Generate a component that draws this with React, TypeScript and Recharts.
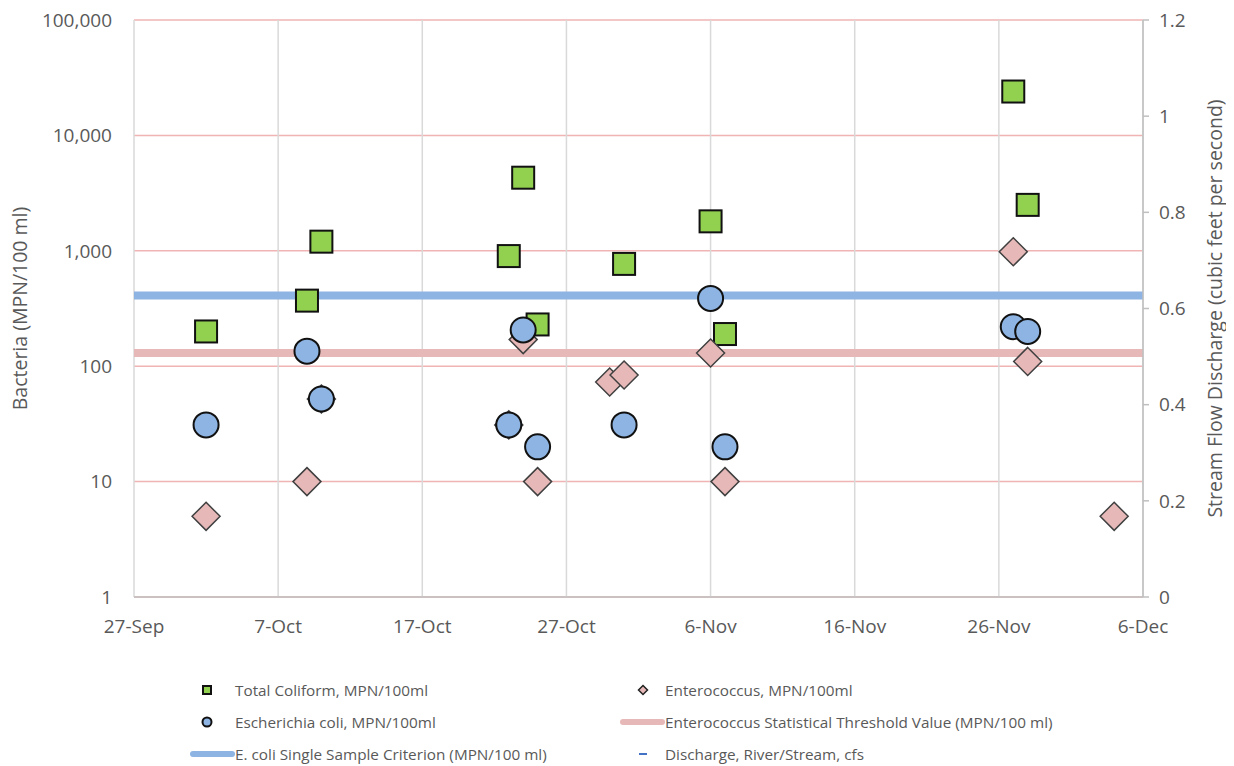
import {
  ComposedChart,
  Scatter,
  XAxis,
  YAxis,
  CartesianGrid,
  ReferenceLine,
} from "recharts";

const YEAR = 2021;
const MONTHS = ["Jan", "Feb", "Mar", "Apr", "May", "Jun", "Jul", "Aug", "Sep", "Oct", "Nov", "Dec"];

// sample dates (MM-DD) and results, MPN/100ml
const coliformDates = ["10-02", "10-09", "10-10", "10-23", "10-24", "10-25", "10-31", "11-06", "11-07", "11-27", "11-28"];
const coliformValues = [200, 370, 1200, 900, 4300, 230, 770, 1800, 190, 24000, 2500];

const ecoliDates = ["10-02", "10-09", "10-10", "10-23", "10-24", "10-25", "10-31", "11-06", "11-07", "11-27", "11-28"];
const ecoliValues = [31, 135, 52, 31, 206, 20, 31, 387, 20, 220, 200];

const enteroDates = ["10-02", "10-09", "10-10", "10-23", "10-24", "10-25", "10-30", "10-31", "11-06", "11-07", "11-27", "11-28", "12-04"];
const enteroValues = [5, 10, 52, 31, 170, 10, 73, 84, 130, 10, 980, 110, 5];

// no discharge readings in this period
const dischargeDates: string[] = [];
const dischargeValues: number[] = [];

const ECOLI_SSC = 410;
const ENTERO_STV = 130;

const xTickDates = ["09-27", "10-07", "10-17", "10-27", "11-06", "11-16", "11-26", "12-06"];
const leftTicks = [1, 10, 100, 1000, 10000, 100000];
const rightTicks = [0, 0.2, 0.4, 0.6, 0.8, 1, 1.2];

const GREEN = "#92d050";
const BLUE = "#8db4e2";
const PINK = "#e6b8b7";
const TEXT = "#595959";
const AXIS = "#bfbfbf";
const FONT = "'Open Sans', sans-serif";

const toTime = (md: string) => {
  const [m, d] = md.split("-").map(Number);
  return Date.UTC(YEAR, m - 1, d);
};

const toPoints = (dates: string[], values: number[]) =>
  dates.map((d, i) => ({ x: toTime(d), y: values[i] }));

const coliform = toPoints(coliformDates, coliformValues);
const ecoli = toPoints(ecoliDates, ecoliValues);
const entero = toPoints(enteroDates, enteroValues);
const discharge = toPoints(dischargeDates, dischargeValues);

const xTicks = xTickDates.map(toTime);

const fmtDate = (t: number) => {
  const d = new Date(t);
  return `${d.getUTCDate()}-${MONTHS[d.getUTCMonth()]}`;
};

const fmtRight = (v: number) => String(Math.round(v * 10) / 10);

const Square = (p: any) => (
  <rect x={p.cx - 11} y={p.cy - 11} width={22} height={22} fill={GREEN} stroke="#111" strokeWidth={2} />
);
const Circle = (p: any) => (
  <circle cx={p.cx} cy={p.cy} r={12.5} fill={BLUE} stroke="#111" strokeWidth={2} />
);
const Diamond = (p: any) => (
  <path
    d={`M${p.cx},${p.cy - 14}L${p.cx + 14},${p.cy}L${p.cx},${p.cy + 14}L${p.cx - 14},${p.cy}Z`}
    fill={PINK}
    stroke="#404040"
    strokeWidth={1.5}
  />
);
const Dash = (p: any) => (
  <line x1={p.cx - 5} x2={p.cx + 5} y1={p.cy} y2={p.cy} stroke="#4472c4" strokeWidth={2} />
);

const legendText: React.CSSProperties = {
  position: "absolute",
  fontFamily: FONT,
  fontSize: 15.3,
  color: TEXT,
  whiteSpace: "nowrap",
  lineHeight: "20px",
};

const LegendRow = ({ x, y, icon, label }: { x: number; y: number; icon: React.ReactNode; label: string }) => (
  <>
    <svg style={{ position: "absolute", left: x - 45, top: y - 9 }} width={45} height={18}>
      {icon}
    </svg>
    <div style={{ ...legendText, left: x, top: y - 10 }}>{label}</div>
  </>
);

export default function App() {
  return (
    <div style={{ position: "relative", width: 1218, height: 758 }}>
      <ComposedChart width={1218} height={650} margin={{ top: 12, right: 0, bottom: 0, left: 0 }}>
        <CartesianGrid yAxisId="left" vertical={false} stroke="#f0b4b4" strokeWidth={1.5} />
        <CartesianGrid yAxisId="left" horizontal={false} stroke="#d9d9d9" strokeWidth={1.5} />
        <XAxis
          dataKey="x"
          type="number"
          domain={[xTicks[0], xTicks[xTicks.length - 1]]}
          ticks={xTicks}
          tickFormatter={fmtDate}
          height={61}
          stroke={AXIS}
          strokeWidth={1.5}
          tickLine={false}
          tickSize={0}
          tickMargin={23}
          tick={{ fill: TEXT, fontSize: 19, fontFamily: FONT }}
        />
        <YAxis
          yAxisId="left"
          dataKey="y"
          scale="log"
          type="number"
          domain={[1, 100000]}
          ticks={leftTicks}
          allowDataOverflow
          tickFormatter={(v: number) => v.toLocaleString("en-US")}
          width={126}
          axisLine={false}
          tickLine={false}
          tickSize={0}
          tickMargin={22}
          tick={{ fill: TEXT, fontSize: 19, fontFamily: FONT }}
          label={{
            value: "Bacteria (MPN/100 ml)",
            angle: -90,
            position: "insideLeft",
            offset: 12,
            style: { fill: TEXT, fontSize: 19.5, fontFamily: FONT, textAnchor: "middle" },
          }}
        />
        <YAxis
          yAxisId="right"
          orientation="right"
          type="number"
          domain={[0, 1.2]}
          ticks={rightTicks}
          allowDataOverflow
          tickFormatter={fmtRight}
          width={83}
          stroke={AXIS}
          strokeWidth={1.5}
          tickSize={6}
          tickMargin={10}
          tick={{ fill: TEXT, fontSize: 19, fontFamily: FONT }}
          label={{
            value: "Stream Flow Discharge (cubic feet per second)",
            angle: -90,
            position: "insideRight",
            offset: 11,
            style: { fill: TEXT, fontSize: 19.5, fontFamily: FONT, textAnchor: "middle" },
          }}
        />
        <ReferenceLine yAxisId="left" y={ENTERO_STV} stroke={PINK} strokeWidth={8} />
        <ReferenceLine yAxisId="left" y={ECOLI_SSC} stroke={BLUE} strokeWidth={8} />
        <Scatter yAxisId="left" data={coliform} dataKey="y" shape={Square} isAnimationActive={false} />
        <Scatter yAxisId="left" data={entero} dataKey="y" shape={Diamond} isAnimationActive={false} />
        <Scatter yAxisId="left" data={ecoli} dataKey="y" shape={Circle} isAnimationActive={false} />
        <Scatter yAxisId="right" data={discharge} dataKey="y" shape={Dash} isAnimationActive={false} />
      </ComposedChart>

      <LegendRow
        x={227}
        y={682}
        icon={<rect x={13} y={5} width={8} height={8} fill={GREEN} stroke="#111" strokeWidth={2} />}
        label="Total Coliform, MPN/100ml"
      />
      <LegendRow
        x={227}
        y={714}
        icon={<circle cx={17} cy={9} r={4.5} fill={BLUE} stroke="#111" strokeWidth={2} />}
        label="Escherichia coli, MPN/100ml"
      />
      <LegendRow
        x={227}
        y={746}
        icon={<line x1={3} x2={42} y1={9} y2={9} stroke={BLUE} strokeWidth={6} strokeLinecap="round" />}
        label="E. coli Single Sample Criterion (MPN/100 ml)"
      />
      <LegendRow
        x={657}
        y={682}
        icon={<path d="M23,4.5L27.5,9L23,13.5L18.5,9Z" fill={PINK} stroke="#222" strokeWidth={1.5} />}
        label="Enterococcus, MPN/100ml"
      />
      <LegendRow
        x={657}
        y={714}
        icon={<line x1={3} x2={42} y1={9} y2={9} stroke={PINK} strokeWidth={6} strokeLinecap="round" />}
        label="Enterococcus Statistical Threshold Value (MPN/100 ml)"
      />
      <LegendRow
        x={657}
        y={746}
        icon={<line x1={19} x2={27} y1={9} y2={9} stroke="#4472c4" strokeWidth={2} />}
        label="Discharge, River/Stream, cfs"
      />
    </div>
  );
}
